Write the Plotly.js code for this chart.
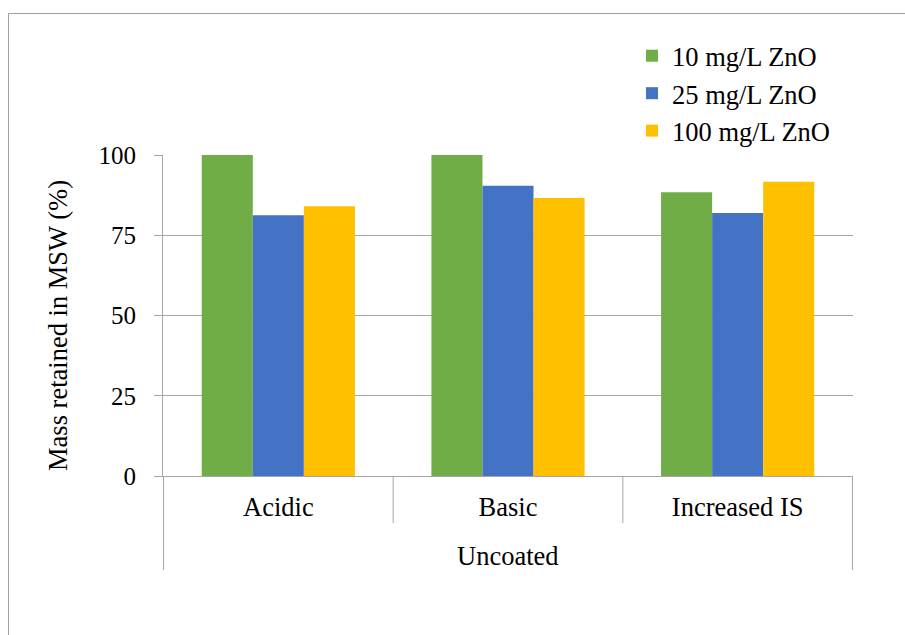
<!DOCTYPE html>
<html>
<head>
<meta charset="utf-8">
<script src="https://cdn.plot.ly/plotly-3.0.1.min.js"></script>
<style>
  html, body { margin: 0; padding: 0; background: #ffffff; }
  #chart { width: 905px; height: 635px; }
</style>
</head>
<body>
<div id="chart"></div>
<script>
// Mass retained in MSW for uncoated ZnO under three water chemistries
const groupLabel = "Uncoated";
const conditions = ["Acidic", "Basic", "Increased IS"];
const seriesNames = ["10 mg/L ZnO", "25 mg/L ZnO", "100 mg/L ZnO"];
const zno10 = [100, 100, 88.4];
const zno25 = [81.2, 90.4, 81.9];
const zno100 = [84.0, 86.6, 91.7];
const yTicks = [0, 25, 50, 75, 100];

const seriesValues = [zno10, zno25, zno100];
const seriesColors = ["#70AD47", "#4472C4", "#FFC000"];

const W = 905, H = 635;
const M = { l: 163, r: 52, t: 155, b: 159 };
const plotW = W - M.l - M.r;
const plotH = H - M.t - M.b;
// pixel -> paper coordinate helpers for the frame decorations
const pxX = (px) => (px - M.l) / plotW;
const pxY = (py) => (H - M.b - py) / plotH;

const FONT = "'Liberation Serif', 'Times New Roman', serif";
const TXT = 26.5;   // labels, legend, titles
const TICK = 25;    // value-axis numbers
const LINE = "#a6a6a6";

const traces = seriesNames.map((name, i) => ({
  type: "bar",
  name: name,
  x: conditions,
  y: seriesValues[i],
  marker: { color: seriesColors[i], line: { width: 0 } },
  hoverinfo: "x+y+name"
}));

const shapes = [];
// category dividers below the axis: short between categories, long at the ends
for (let k = 0; k <= conditions.length; k++) {
  const isEnd = (k === 0 || k === conditions.length);
  shapes.push({
    type: "line", xref: "x", yref: "paper",
    x0: k - 0.5, x1: k - 0.5,
    y0: 0, y1: pxY(isEnd ? 570 : 523),
    line: { color: LINE, width: 1 }
  });
}
// outer frame (top and left edges visible)
shapes.push({
  type: "path", xref: "paper", yref: "paper",
  path: `M ${pxX(8.5)} ${pxY(636)} L ${pxX(8.5)} ${pxY(13.5)} L ${pxX(906)} ${pxY(13.5)}`,
  line: { color: "#a0a0a0", width: 1 }
});

const annotations = [
  {
    text: groupLabel, xref: "paper", yref: "paper",
    x: 0.5, y: pxY(556), xanchor: "center", yanchor: "middle",
    showarrow: false, font: { family: FONT, size: TXT, color: "#000" }
  },
  {
    text: "Mass retained in MSW (%)", xref: "paper", yref: "paper",
    x: pxX(58), y: pxY(326), xanchor: "center", yanchor: "middle",
    textangle: -90, showarrow: false,
    font: { family: FONT, size: TXT, color: "#000" }
  }
];

const layout = {
  width: W, height: H,
  margin: M,
  paper_bgcolor: "#ffffff",
  plot_bgcolor: "#ffffff",
  font: { family: FONT, size: TXT, color: "#000" },
  barmode: "group",
  bargap: 0.333,
  bargroupgap: 0,
  showlegend: true,
  legend: {
    x: pxX(632), y: pxY(32), xanchor: "left", yanchor: "top",
    bgcolor: "rgba(0,0,0,0)", borderwidth: 0,
    font: { family: FONT, size: TXT, color: "#000" },
    traceorder: "normal"
  },
  xaxis: {
    type: "category",
    showgrid: false, zeroline: false,
    showline: true, linecolor: LINE, linewidth: 1,
    ticks: "", tickfont: { family: FONT, size: TXT, color: "#000" },
    ticklabelstandoff: 7,
    fixedrange: true
  },
  yaxis: {
    range: [0, 100],
    tickvals: yTicks,
    ticktext: yTicks.map(String),
    showgrid: true, gridcolor: LINE, gridwidth: 1,
    zeroline: false,
    showline: true, linecolor: LINE, linewidth: 1,
    ticks: "outside", ticklen: 8, tickcolor: LINE, tickwidth: 1,
    tickfont: { family: FONT, size: TICK, color: "#000" },
    ticklabelstandoff: 13,
    fixedrange: true
  },
  shapes: shapes,
  annotations: annotations
};

Plotly.newPlot("chart", traces, layout, { displayModeBar: false, staticPlot: true });
</script>
</body>
</html>
